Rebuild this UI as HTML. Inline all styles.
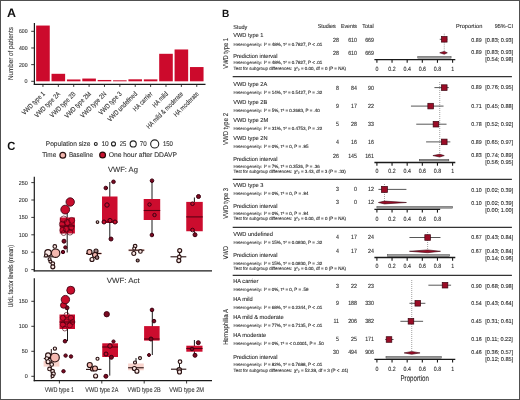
<!DOCTYPE html>
<html><head><meta charset="utf-8"><style>
html,body{margin:0;padding:0;background:#fff;}
body{width:520px;height:400px;overflow:hidden;}
svg{display:block;will-change:transform;text-rendering:geometricPrecision;font-family:"Liberation Sans", sans-serif;}
</style></head><body>
<svg width="520" height="400" viewBox="0 0 520 400">
<rect x="0" y="0" width="520" height="400" fill="#fff"/>
<text x="7.00" y="16.80" font-size="12.2" textLength="9" lengthAdjust="spacingAndGlyphs" fill="#111" font-weight="bold">A</text>
<line x1="34.40" y1="23.00" x2="34.40" y2="84.90" stroke="#1a1a1a" stroke-width="1.2"/>
<line x1="33.80" y1="84.30" x2="205.50" y2="84.30" stroke="#1a1a1a" stroke-width="1.2"/>
<line x1="31.20" y1="81.30" x2="34.40" y2="81.30" stroke="#222" stroke-width="0.9"/>
<text x="27.60" y="83.30" font-size="5.8" stroke="#333" stroke-width="0.1" text-anchor="end" textLength="3" lengthAdjust="spacingAndGlyphs" fill="#333">0</text>
<line x1="31.20" y1="64.63" x2="34.40" y2="64.63" stroke="#222" stroke-width="0.9"/>
<text x="27.60" y="66.63" font-size="5.8" stroke="#333" stroke-width="0.1" text-anchor="end" textLength="8.6" lengthAdjust="spacingAndGlyphs" fill="#333">200</text>
<line x1="31.20" y1="47.97" x2="34.40" y2="47.97" stroke="#222" stroke-width="0.9"/>
<text x="27.60" y="49.97" font-size="5.8" stroke="#333" stroke-width="0.1" text-anchor="end" textLength="8.6" lengthAdjust="spacingAndGlyphs" fill="#333">400</text>
<line x1="31.20" y1="31.30" x2="34.40" y2="31.30" stroke="#222" stroke-width="0.9"/>
<text x="27.60" y="33.30" font-size="5.8" stroke="#333" stroke-width="0.1" text-anchor="end" textLength="8.6" lengthAdjust="spacingAndGlyphs" fill="#333">600</text>
<text transform="translate(12.60,53.50) rotate(-90)" font-size="7.0" stroke="#333" stroke-width="0.1" text-anchor="middle" textLength="53" lengthAdjust="spacingAndGlyphs" fill="#333">Number of patients</text>
<rect x="36.15" y="25.55" width="13.60" height="55.75" fill="#cc0a2c"/>
<line x1="42.95" y1="84.30" x2="42.95" y2="86.90" stroke="#222" stroke-width="0.9"/>
<text transform="translate(45.35,94.40) rotate(-45)" font-size="6.8" stroke="#333" stroke-width="0.1" text-anchor="end" textLength="29.61" lengthAdjust="spacingAndGlyphs" fill="#333">VWD type 1</text>
<rect x="51.53" y="73.80" width="13.60" height="7.50" fill="#cc0a2c"/>
<line x1="58.33" y1="84.30" x2="58.33" y2="86.90" stroke="#222" stroke-width="0.9"/>
<text transform="translate(60.73,94.40) rotate(-45)" font-size="6.8" stroke="#333" stroke-width="0.1" text-anchor="end" textLength="33.31" lengthAdjust="spacingAndGlyphs" fill="#333">VWD type 2A</text>
<rect x="66.91" y="79.47" width="13.60" height="1.83" fill="#cc0a2c"/>
<line x1="73.71" y1="84.30" x2="73.71" y2="86.90" stroke="#222" stroke-width="0.9"/>
<text transform="translate(76.11,94.40) rotate(-45)" font-size="6.8" stroke="#333" stroke-width="0.1" text-anchor="end" textLength="33.31" lengthAdjust="spacingAndGlyphs" fill="#333">VWD type 2B</text>
<rect x="82.29" y="78.55" width="13.60" height="2.75" fill="#cc0a2c"/>
<line x1="89.09" y1="84.30" x2="89.09" y2="86.90" stroke="#222" stroke-width="0.9"/>
<text transform="translate(91.49,94.40) rotate(-45)" font-size="6.8" stroke="#333" stroke-width="0.1" text-anchor="end" textLength="34.23" lengthAdjust="spacingAndGlyphs" fill="#333">VWD type 2M</text>
<rect x="97.67" y="79.97" width="13.60" height="1.33" fill="#cc0a2c"/>
<line x1="104.47" y1="84.30" x2="104.47" y2="86.90" stroke="#222" stroke-width="0.9"/>
<text transform="translate(106.87,94.40) rotate(-45)" font-size="6.8" stroke="#333" stroke-width="0.1" text-anchor="end" textLength="33.62" lengthAdjust="spacingAndGlyphs" fill="#333">VWD type 2N</text>
<rect x="113.05" y="80.30" width="13.60" height="1.00" fill="#cc0a2c"/>
<line x1="119.85" y1="84.30" x2="119.85" y2="86.90" stroke="#222" stroke-width="0.9"/>
<text transform="translate(122.25,94.40) rotate(-45)" font-size="6.8" stroke="#333" stroke-width="0.1" text-anchor="end" textLength="29.61" lengthAdjust="spacingAndGlyphs" fill="#333">VWD type 3</text>
<rect x="128.43" y="79.30" width="13.60" height="2.00" fill="#cc0a2c"/>
<line x1="135.23" y1="84.30" x2="135.23" y2="86.90" stroke="#222" stroke-width="0.9"/>
<text transform="translate(137.63,94.40) rotate(-45)" font-size="6.8" stroke="#333" stroke-width="0.1" text-anchor="end" textLength="38.87" lengthAdjust="spacingAndGlyphs" fill="#333">VWD undefined</text>
<rect x="143.81" y="79.38" width="13.60" height="1.92" fill="#cc0a2c"/>
<line x1="150.61" y1="84.30" x2="150.61" y2="86.90" stroke="#222" stroke-width="0.9"/>
<text transform="translate(153.01,94.40) rotate(-45)" font-size="6.8" stroke="#333" stroke-width="0.1" text-anchor="end" textLength="24.67" lengthAdjust="spacingAndGlyphs" fill="#333">HA carrier</text>
<rect x="159.19" y="53.80" width="13.60" height="27.50" fill="#cc0a2c"/>
<line x1="165.99" y1="84.30" x2="165.99" y2="86.90" stroke="#222" stroke-width="0.9"/>
<text transform="translate(168.39,94.40) rotate(-45)" font-size="6.8" stroke="#333" stroke-width="0.1" text-anchor="end" textLength="19.12" lengthAdjust="spacingAndGlyphs" fill="#333">HA mild</text>
<rect x="174.57" y="49.47" width="13.60" height="31.83" fill="#cc0a2c"/>
<line x1="181.37" y1="84.30" x2="181.37" y2="86.90" stroke="#222" stroke-width="0.9"/>
<text transform="translate(183.77,94.40) rotate(-45)" font-size="6.8" stroke="#333" stroke-width="0.1" text-anchor="end" textLength="49.35" lengthAdjust="spacingAndGlyphs" fill="#333">HA mild &amp; moderate</text>
<rect x="189.95" y="67.05" width="13.60" height="14.25" fill="#cc0a2c"/>
<line x1="196.75" y1="84.30" x2="196.75" y2="86.90" stroke="#222" stroke-width="0.9"/>
<text transform="translate(199.15,94.40) rotate(-45)" font-size="6.8" stroke="#333" stroke-width="0.1" text-anchor="end" textLength="32.39" lengthAdjust="spacingAndGlyphs" fill="#333">HA moderate</text>
<text x="7.20" y="150.10" font-size="11.8" textLength="8.1" lengthAdjust="spacingAndGlyphs" fill="#111" font-weight="bold">C</text>
<text x="45.80" y="146.10" font-size="6.8" stroke="#333" stroke-width="0.1" textLength="44.7" lengthAdjust="spacingAndGlyphs" fill="#333">Population size</text>
<circle cx="95.80" cy="143.90" r="1.45" fill="none" stroke="#222" stroke-width="1.1"/>
<text x="101.40" y="146.10" font-size="6.8" stroke="#333" stroke-width="0.1" textLength="7.3" lengthAdjust="spacingAndGlyphs" fill="#333">10</text>
<circle cx="113.50" cy="143.90" r="2.00" fill="none" stroke="#222" stroke-width="1.1"/>
<text x="119.70" y="146.10" font-size="6.8" stroke="#333" stroke-width="0.1" textLength="6.6" lengthAdjust="spacingAndGlyphs" fill="#333">25</text>
<circle cx="133.20" cy="143.90" r="3.05" fill="none" stroke="#222" stroke-width="1.1"/>
<text x="139.80" y="146.10" font-size="6.8" stroke="#333" stroke-width="0.1" textLength="6.9" lengthAdjust="spacingAndGlyphs" fill="#333">70</text>
<circle cx="154.70" cy="143.90" r="4.05" fill="none" stroke="#222" stroke-width="1.1"/>
<text x="162.90" y="146.10" font-size="6.8" stroke="#333" stroke-width="0.1" textLength="10.0" lengthAdjust="spacingAndGlyphs" fill="#333">150</text>
<text x="42.30" y="157.30" font-size="6.8" stroke="#333" stroke-width="0.1" textLength="13.9" lengthAdjust="spacingAndGlyphs" fill="#333">Time</text>
<circle cx="62.80" cy="155.20" r="2.90" fill="#f2b5ad" stroke="#2a1212" stroke-width="1.2"/>
<text x="68.90" y="157.30" font-size="6.8" stroke="#333" stroke-width="0.1" textLength="24.1" lengthAdjust="spacingAndGlyphs" fill="#333">Baseline</text>
<circle cx="102.60" cy="155.00" r="2.90" fill="#c8102e" stroke="#2a0a0a" stroke-width="1.2"/>
<text x="108.70" y="157.30" font-size="6.8" stroke="#333" stroke-width="0.1" textLength="68.3" lengthAdjust="spacingAndGlyphs" fill="#333">One hour after DDAVP</text>
<text x="107.90" y="171.50" font-size="7.4" stroke="#333" stroke-width="0.1" textLength="30" lengthAdjust="spacingAndGlyphs" fill="#333">VWF: Ag</text>
<line x1="34.30" y1="176.70" x2="34.30" y2="271.40" stroke="#1a1a1a" stroke-width="1.2"/>
<line x1="33.70" y1="270.80" x2="212.00" y2="270.80" stroke="#1a1a1a" stroke-width="1.2"/>
<line x1="31.30" y1="269.60" x2="34.30" y2="269.60" stroke="#222" stroke-width="0.9"/>
<text x="27.70" y="271.60" font-size="5.8" stroke="#333" stroke-width="0.1" text-anchor="end" textLength="3" lengthAdjust="spacingAndGlyphs" fill="#333">0</text>
<line x1="31.30" y1="252.20" x2="34.30" y2="252.20" stroke="#222" stroke-width="0.9"/>
<text x="27.70" y="254.20" font-size="5.8" stroke="#333" stroke-width="0.1" text-anchor="end" textLength="6" lengthAdjust="spacingAndGlyphs" fill="#333">50</text>
<line x1="31.30" y1="234.80" x2="34.30" y2="234.80" stroke="#222" stroke-width="0.9"/>
<text x="27.70" y="236.80" font-size="5.8" stroke="#333" stroke-width="0.1" text-anchor="end" textLength="9" lengthAdjust="spacingAndGlyphs" fill="#333">100</text>
<line x1="31.30" y1="217.40" x2="34.30" y2="217.40" stroke="#222" stroke-width="0.9"/>
<text x="27.70" y="219.40" font-size="5.8" stroke="#333" stroke-width="0.1" text-anchor="end" textLength="9" lengthAdjust="spacingAndGlyphs" fill="#333">150</text>
<line x1="31.30" y1="200.00" x2="34.30" y2="200.00" stroke="#222" stroke-width="0.9"/>
<text x="27.70" y="202.00" font-size="5.8" stroke="#333" stroke-width="0.1" text-anchor="end" textLength="9" lengthAdjust="spacingAndGlyphs" fill="#333">200</text>
<line x1="31.30" y1="182.60" x2="34.30" y2="182.60" stroke="#222" stroke-width="0.9"/>
<text x="27.70" y="184.60" font-size="5.8" stroke="#333" stroke-width="0.1" text-anchor="end" textLength="9" lengthAdjust="spacingAndGlyphs" fill="#333">250</text>
<text x="106.70" y="282.60" font-size="7.4" stroke="#333" stroke-width="0.1" textLength="32.9" lengthAdjust="spacingAndGlyphs" fill="#333">VWF: Act</text>
<line x1="34.30" y1="278.20" x2="34.30" y2="381.30" stroke="#1a1a1a" stroke-width="1.2"/>
<line x1="33.70" y1="380.70" x2="212.00" y2="380.70" stroke="#1a1a1a" stroke-width="1.2"/>
<line x1="31.30" y1="376.30" x2="34.30" y2="376.30" stroke="#222" stroke-width="0.9"/>
<text x="27.70" y="378.30" font-size="5.8" stroke="#333" stroke-width="0.1" text-anchor="end" textLength="3" lengthAdjust="spacingAndGlyphs" fill="#333">0</text>
<line x1="31.30" y1="351.30" x2="34.30" y2="351.30" stroke="#222" stroke-width="0.9"/>
<text x="27.70" y="353.30" font-size="5.8" stroke="#333" stroke-width="0.1" text-anchor="end" textLength="6" lengthAdjust="spacingAndGlyphs" fill="#333">50</text>
<line x1="31.30" y1="326.30" x2="34.30" y2="326.30" stroke="#222" stroke-width="0.9"/>
<text x="27.70" y="328.30" font-size="5.8" stroke="#333" stroke-width="0.1" text-anchor="end" textLength="9" lengthAdjust="spacingAndGlyphs" fill="#333">100</text>
<line x1="31.30" y1="301.30" x2="34.30" y2="301.30" stroke="#222" stroke-width="0.9"/>
<text x="27.70" y="303.30" font-size="5.8" stroke="#333" stroke-width="0.1" text-anchor="end" textLength="9" lengthAdjust="spacingAndGlyphs" fill="#333">150</text>
<text transform="translate(13.20,276.30) rotate(-90)" font-size="7.0" stroke="#333" stroke-width="0.1" text-anchor="middle" textLength="62.6" lengthAdjust="spacingAndGlyphs" fill="#333">U/dL factor levels (mean)</text>
<line x1="59.40" y1="380.70" x2="59.40" y2="383.50" stroke="#222" stroke-width="0.9"/>
<text x="59.40" y="391.60" font-size="6.9" stroke="#333" stroke-width="0.1" text-anchor="middle" textLength="29.4" lengthAdjust="spacingAndGlyphs" fill="#333">VWD type 1</text>
<line x1="101.80" y1="380.70" x2="101.80" y2="383.50" stroke="#222" stroke-width="0.9"/>
<text x="101.80" y="391.60" font-size="6.9" stroke="#333" stroke-width="0.1" text-anchor="middle" textLength="33.1" lengthAdjust="spacingAndGlyphs" fill="#333">VWD type 2A</text>
<line x1="144.20" y1="380.70" x2="144.20" y2="383.50" stroke="#222" stroke-width="0.9"/>
<text x="144.20" y="391.60" font-size="6.9" stroke="#333" stroke-width="0.1" text-anchor="middle" textLength="33.2" lengthAdjust="spacingAndGlyphs" fill="#333">VWD type 2B</text>
<line x1="186.60" y1="380.70" x2="186.60" y2="383.50" stroke="#222" stroke-width="0.9"/>
<text x="186.60" y="391.60" font-size="6.9" stroke="#333" stroke-width="0.1" text-anchor="middle" textLength="34.7" lengthAdjust="spacingAndGlyphs" fill="#333">VWD type 2M</text>
<!--CDATA-->
<text x="221.90" y="16.90" font-size="10.4" textLength="7.3" lengthAdjust="spacingAndGlyphs" fill="#111" font-weight="bold">B</text>
<text x="233.20" y="28.70" font-size="5.8" stroke="#2a2a2a" stroke-width="0.1" textLength="14.1" lengthAdjust="spacingAndGlyphs" fill="#2a2a2a">Study</text>
<text x="317.70" y="28.10" font-size="5.8" stroke="#2a2a2a" stroke-width="0.1" textLength="18.1" lengthAdjust="spacingAndGlyphs" fill="#2a2a2a">Studies</text>
<text x="341.00" y="28.10" font-size="5.8" stroke="#2a2a2a" stroke-width="0.1" textLength="16" lengthAdjust="spacingAndGlyphs" fill="#2a2a2a">Events</text>
<text x="362.30" y="28.10" font-size="5.8" stroke="#2a2a2a" stroke-width="0.1" textLength="11.5" lengthAdjust="spacingAndGlyphs" fill="#2a2a2a">Total</text>
<text x="456.00" y="28.00" font-size="5.8" stroke="#2a2a2a" stroke-width="0.1" textLength="26.3" lengthAdjust="spacingAndGlyphs" fill="#2a2a2a">Proportion</text>
<text x="494.80" y="28.00" font-size="5.8" stroke="#2a2a2a" stroke-width="0.1" textLength="18.2" lengthAdjust="spacingAndGlyphs" fill="#2a2a2a">95%-CI</text>
<text transform="translate(227.70,53.40) rotate(-90)" font-size="7.0" stroke="#2a2a2a" stroke-width="0.1" text-anchor="middle" textLength="30.6" lengthAdjust="spacingAndGlyphs" fill="#2a2a2a">VWD type 1</text>
<line x1="444.27" y1="33.70" x2="444.27" y2="54.00" stroke="#8a8a8a" stroke-width="0.8" stroke-dasharray="1,1"/>
<text x="233.20" y="37.40" font-size="5.8" stroke="#2a2a2a" stroke-width="0.1" textLength="30.22" lengthAdjust="spacingAndGlyphs" fill="#2a2a2a">VWD type 1</text>
<text x="233.50" y="45.70" font-size="4.4" stroke="#4a4a4a" stroke-width="0.12" textLength="28.6" lengthAdjust="spacingAndGlyphs" fill="#4a4a4a">Heterogeneity:</text>
<text x="264.00" y="45.70" font-size="4.6" stroke="#2a2a2a" stroke-width="0.12" textLength="58.3" lengthAdjust="spacingAndGlyphs" fill="#2a2a2a">I² = 48%, τ² = 0.7827, P &lt; .01</text>
<text x="339.00" y="41.80" font-size="6.1" stroke="#2a2a2a" stroke-width="0.1" text-anchor="end" textLength="5.89" lengthAdjust="spacingAndGlyphs" fill="#2a2a2a">28</text>
<text x="357.00" y="41.80" font-size="6.1" stroke="#2a2a2a" stroke-width="0.1" text-anchor="end" textLength="8.83" lengthAdjust="spacingAndGlyphs" fill="#2a2a2a">610</text>
<text x="374.00" y="41.80" font-size="6.1" stroke="#2a2a2a" stroke-width="0.1" text-anchor="end" textLength="8.83" lengthAdjust="spacingAndGlyphs" fill="#2a2a2a">669</text>
<line x1="439.73" y1="39.30" x2="447.30" y2="39.30" stroke="#444" stroke-width="0.9"/>
<rect x="441.47" y="36.50" width="5.60" height="5.60" fill="#9a0c26" stroke="#3a0510" stroke-width="0.7"/>
<text x="481.60" y="41.60" font-size="5.6" stroke="#2a2a2a" stroke-width="0.1" text-anchor="end" textLength="10.3" lengthAdjust="spacingAndGlyphs" fill="#2a2a2a">0.89</text>
<text x="485.30" y="41.60" font-size="5.6" stroke="#2a2a2a" stroke-width="0.1" textLength="28.0" lengthAdjust="spacingAndGlyphs" fill="#2a2a2a">[0.83; 0.93]</text>
<text x="233.20" y="58.20" font-size="5.8" stroke="#2a2a2a" stroke-width="0.1" textLength="44.2" lengthAdjust="spacingAndGlyphs" fill="#2a2a2a">Prediction interval</text>
<text x="339.00" y="54.70" font-size="6.1" stroke="#2a2a2a" stroke-width="0.1" text-anchor="end" textLength="5.89" lengthAdjust="spacingAndGlyphs" fill="#2a2a2a">28</text>
<text x="357.00" y="54.70" font-size="6.1" stroke="#2a2a2a" stroke-width="0.1" text-anchor="end" textLength="8.83" lengthAdjust="spacingAndGlyphs" fill="#2a2a2a">610</text>
<text x="374.00" y="54.70" font-size="6.1" stroke="#2a2a2a" stroke-width="0.1" text-anchor="end" textLength="8.83" lengthAdjust="spacingAndGlyphs" fill="#2a2a2a">669</text>
<polygon points="439.73,52.80 444.27,51.40 447.30,52.80 444.27,54.20" fill="#9a0c26" stroke="#3a0510" stroke-width="0.6"/>
<rect x="417.78" y="56.45" width="33.31" height="1.70" fill="#a0a0a0" stroke="#444" stroke-width="0.5"/>
<text x="233.50" y="64.30" font-size="4.4" stroke="#4a4a4a" stroke-width="0.12" textLength="28.6" lengthAdjust="spacingAndGlyphs" fill="#4a4a4a">Heterogeneity:</text>
<text x="264.00" y="64.30" font-size="4.6" stroke="#2a2a2a" stroke-width="0.12" textLength="58.3" lengthAdjust="spacingAndGlyphs" fill="#2a2a2a">I² = 48%, τ² = 0.7827, P &lt; .01</text>
<text x="233.50" y="69.70" font-size="4.5" stroke="#3a3a3a" stroke-width="0.12" textLength="58.6" lengthAdjust="spacingAndGlyphs" fill="#3a3a3a">Test for subgroup differences:</text>
<text x="294.00" y="69.70" font-size="4.6" stroke="#2a2a2a" stroke-width="0.12" textLength="51.9" lengthAdjust="spacingAndGlyphs" fill="#2a2a2a">χ²₀ = 0.00, df = 0 (P = NA)</text>
<text x="481.60" y="54.30" font-size="5.6" stroke="#2a2a2a" stroke-width="0.1" text-anchor="end" textLength="10.3" lengthAdjust="spacingAndGlyphs" fill="#2a2a2a">0.89</text>
<text x="485.30" y="54.30" font-size="5.6" stroke="#2a2a2a" stroke-width="0.1" textLength="28.0" lengthAdjust="spacingAndGlyphs" fill="#2a2a2a">[0.83; 0.93]</text>
<text x="485.30" y="61.40" font-size="5.6" stroke="#2a2a2a" stroke-width="0.1" textLength="28.0" lengthAdjust="spacingAndGlyphs" fill="#2a2a2a">[0.54; 0.98]</text>
<line x1="374.40" y1="59.60" x2="455.30" y2="59.60" stroke="#1a1a1a" stroke-width="1.3"/>
<line x1="376.90" y1="59.60" x2="376.90" y2="62.80" stroke="#1a1a1a" stroke-width="1.1"/>
<text x="376.90" y="70.70" font-size="6.2" stroke="#2a2a2a" stroke-width="0.1" text-anchor="middle" textLength="2.94" lengthAdjust="spacingAndGlyphs" fill="#2a2a2a">0</text>
<line x1="392.04" y1="59.60" x2="392.04" y2="62.80" stroke="#1a1a1a" stroke-width="1.1"/>
<text x="392.04" y="70.70" font-size="6.2" stroke="#2a2a2a" stroke-width="0.1" text-anchor="middle" textLength="7.36" lengthAdjust="spacingAndGlyphs" fill="#2a2a2a">0.2</text>
<line x1="407.18" y1="59.60" x2="407.18" y2="62.80" stroke="#1a1a1a" stroke-width="1.1"/>
<text x="407.18" y="70.70" font-size="6.2" stroke="#2a2a2a" stroke-width="0.1" text-anchor="middle" textLength="7.36" lengthAdjust="spacingAndGlyphs" fill="#2a2a2a">0.4</text>
<line x1="422.32" y1="59.60" x2="422.32" y2="62.80" stroke="#1a1a1a" stroke-width="1.1"/>
<text x="422.32" y="70.70" font-size="6.2" stroke="#2a2a2a" stroke-width="0.1" text-anchor="middle" textLength="7.36" lengthAdjust="spacingAndGlyphs" fill="#2a2a2a">0.6</text>
<line x1="437.46" y1="59.60" x2="437.46" y2="62.80" stroke="#1a1a1a" stroke-width="1.1"/>
<text x="437.46" y="70.70" font-size="6.2" stroke="#2a2a2a" stroke-width="0.1" text-anchor="middle" textLength="7.36" lengthAdjust="spacingAndGlyphs" fill="#2a2a2a">0.8</text>
<line x1="452.60" y1="59.60" x2="452.60" y2="62.80" stroke="#1a1a1a" stroke-width="1.1"/>
<text x="452.60" y="70.70" font-size="6.2" stroke="#2a2a2a" stroke-width="0.1" text-anchor="middle" textLength="2.94" lengthAdjust="spacingAndGlyphs" fill="#2a2a2a">1</text>
<line x1="232.70" y1="76.60" x2="511.90" y2="76.60" stroke="#333" stroke-width="1.2"/>
<text transform="translate(227.70,129.00) rotate(-90)" font-size="7.0" stroke="#2a2a2a" stroke-width="0.1" text-anchor="middle" textLength="32" lengthAdjust="spacingAndGlyphs" fill="#2a2a2a">VWD type 2</text>
<line x1="439.73" y1="82.00" x2="439.73" y2="155.00" stroke="#8a8a8a" stroke-width="0.8" stroke-dasharray="1,1"/>
<text x="233.20" y="85.50" font-size="5.8" stroke="#2a2a2a" stroke-width="0.1" textLength="34.0" lengthAdjust="spacingAndGlyphs" fill="#2a2a2a">VWD type 2A</text>
<text x="233.50" y="93.80" font-size="4.4" stroke="#4a4a4a" stroke-width="0.12" textLength="28.6" lengthAdjust="spacingAndGlyphs" fill="#4a4a4a">Heterogeneity:</text>
<text x="264.00" y="93.80" font-size="4.6" stroke="#2a2a2a" stroke-width="0.12" textLength="58.3" lengthAdjust="spacingAndGlyphs" fill="#2a2a2a">I² = 14%, τ² = 0.5427, P = .32</text>
<text x="339.00" y="90.20" font-size="6.1" stroke="#2a2a2a" stroke-width="0.1" text-anchor="end" textLength="2.94" lengthAdjust="spacingAndGlyphs" fill="#2a2a2a">8</text>
<text x="357.00" y="90.20" font-size="6.1" stroke="#2a2a2a" stroke-width="0.1" text-anchor="end" textLength="5.89" lengthAdjust="spacingAndGlyphs" fill="#2a2a2a">84</text>
<text x="374.00" y="90.20" font-size="6.1" stroke="#2a2a2a" stroke-width="0.1" text-anchor="end" textLength="5.89" lengthAdjust="spacingAndGlyphs" fill="#2a2a2a">90</text>
<line x1="434.43" y1="87.60" x2="448.81" y2="87.60" stroke="#444" stroke-width="0.9"/>
<rect x="441.47" y="84.80" width="5.60" height="5.60" fill="#9a0c26" stroke="#3a0510" stroke-width="0.7"/>
<text x="481.60" y="89.20" font-size="5.6" stroke="#2a2a2a" stroke-width="0.1" text-anchor="end" textLength="10.3" lengthAdjust="spacingAndGlyphs" fill="#2a2a2a">0.89</text>
<text x="485.30" y="89.20" font-size="5.6" stroke="#2a2a2a" stroke-width="0.1" textLength="28.0" lengthAdjust="spacingAndGlyphs" fill="#2a2a2a">[0.76; 0.95]</text>
<text x="233.20" y="103.70" font-size="5.8" stroke="#2a2a2a" stroke-width="0.1" textLength="34.0" lengthAdjust="spacingAndGlyphs" fill="#2a2a2a">VWD type 2B</text>
<text x="233.50" y="111.70" font-size="4.4" stroke="#4a4a4a" stroke-width="0.12" textLength="28.6" lengthAdjust="spacingAndGlyphs" fill="#4a4a4a">Heterogeneity:</text>
<text x="264.00" y="111.70" font-size="4.6" stroke="#2a2a2a" stroke-width="0.12" textLength="55.8" lengthAdjust="spacingAndGlyphs" fill="#2a2a2a">I² = 5%, τ² = 0.2683, P = .40</text>
<text x="339.00" y="108.00" font-size="6.1" stroke="#2a2a2a" stroke-width="0.1" text-anchor="end" textLength="2.94" lengthAdjust="spacingAndGlyphs" fill="#2a2a2a">9</text>
<text x="357.00" y="108.00" font-size="6.1" stroke="#2a2a2a" stroke-width="0.1" text-anchor="end" textLength="5.89" lengthAdjust="spacingAndGlyphs" fill="#2a2a2a">17</text>
<text x="374.00" y="108.00" font-size="6.1" stroke="#2a2a2a" stroke-width="0.1" text-anchor="end" textLength="5.89" lengthAdjust="spacingAndGlyphs" fill="#2a2a2a">22</text>
<line x1="410.96" y1="106.10" x2="443.52" y2="106.10" stroke="#444" stroke-width="0.9"/>
<rect x="427.85" y="103.30" width="5.60" height="5.60" fill="#9a0c26" stroke="#3a0510" stroke-width="0.7"/>
<text x="481.60" y="108.00" font-size="5.6" stroke="#2a2a2a" stroke-width="0.1" text-anchor="end" textLength="10.3" lengthAdjust="spacingAndGlyphs" fill="#2a2a2a">0.71</text>
<text x="485.30" y="108.00" font-size="5.6" stroke="#2a2a2a" stroke-width="0.1" textLength="28.0" lengthAdjust="spacingAndGlyphs" fill="#2a2a2a">[0.45; 0.88]</text>
<text x="233.20" y="121.70" font-size="5.8" stroke="#2a2a2a" stroke-width="0.1" textLength="34.94" lengthAdjust="spacingAndGlyphs" fill="#2a2a2a">VWD type 2M</text>
<text x="233.50" y="130.10" font-size="4.4" stroke="#4a4a4a" stroke-width="0.12" textLength="28.6" lengthAdjust="spacingAndGlyphs" fill="#4a4a4a">Heterogeneity:</text>
<text x="264.00" y="130.10" font-size="4.6" stroke="#2a2a2a" stroke-width="0.12" textLength="58.3" lengthAdjust="spacingAndGlyphs" fill="#2a2a2a">I² = 31%, τ² = 0.4753, P = .22</text>
<text x="339.00" y="126.20" font-size="6.1" stroke="#2a2a2a" stroke-width="0.1" text-anchor="end" textLength="2.94" lengthAdjust="spacingAndGlyphs" fill="#2a2a2a">5</text>
<text x="357.00" y="126.20" font-size="6.1" stroke="#2a2a2a" stroke-width="0.1" text-anchor="end" textLength="5.89" lengthAdjust="spacingAndGlyphs" fill="#2a2a2a">28</text>
<text x="374.00" y="126.20" font-size="6.1" stroke="#2a2a2a" stroke-width="0.1" text-anchor="end" textLength="5.89" lengthAdjust="spacingAndGlyphs" fill="#2a2a2a">33</text>
<line x1="416.26" y1="124.20" x2="446.54" y2="124.20" stroke="#444" stroke-width="0.9"/>
<rect x="433.15" y="121.40" width="5.60" height="5.60" fill="#9a0c26" stroke="#3a0510" stroke-width="0.7"/>
<text x="481.60" y="125.70" font-size="5.6" stroke="#2a2a2a" stroke-width="0.1" text-anchor="end" textLength="10.3" lengthAdjust="spacingAndGlyphs" fill="#2a2a2a">0.78</text>
<text x="485.30" y="125.70" font-size="5.6" stroke="#2a2a2a" stroke-width="0.1" textLength="28.0" lengthAdjust="spacingAndGlyphs" fill="#2a2a2a">[0.52; 0.92]</text>
<text x="233.20" y="139.70" font-size="5.8" stroke="#2a2a2a" stroke-width="0.1" textLength="34.31" lengthAdjust="spacingAndGlyphs" fill="#2a2a2a">VWD type 2N</text>
<text x="233.50" y="148.00" font-size="4.4" stroke="#4a4a4a" stroke-width="0.12" textLength="28.6" lengthAdjust="spacingAndGlyphs" fill="#4a4a4a">Heterogeneity:</text>
<text x="264.00" y="148.00" font-size="4.6" stroke="#2a2a2a" stroke-width="0.12" textLength="44.55" lengthAdjust="spacingAndGlyphs" fill="#2a2a2a">I² = 0%, τ² = 0, P = .95</text>
<text x="339.00" y="144.20" font-size="6.1" stroke="#2a2a2a" stroke-width="0.1" text-anchor="end" textLength="2.94" lengthAdjust="spacingAndGlyphs" fill="#2a2a2a">4</text>
<text x="357.00" y="144.20" font-size="6.1" stroke="#2a2a2a" stroke-width="0.1" text-anchor="end" textLength="5.89" lengthAdjust="spacingAndGlyphs" fill="#2a2a2a">16</text>
<text x="374.00" y="144.20" font-size="6.1" stroke="#2a2a2a" stroke-width="0.1" text-anchor="end" textLength="5.89" lengthAdjust="spacingAndGlyphs" fill="#2a2a2a">16</text>
<line x1="426.10" y1="141.90" x2="450.33" y2="141.90" stroke="#444" stroke-width="0.9"/>
<rect x="441.47" y="139.10" width="5.60" height="5.60" fill="#9a0c26" stroke="#3a0510" stroke-width="0.7"/>
<text x="481.60" y="143.60" font-size="5.6" stroke="#2a2a2a" stroke-width="0.1" text-anchor="end" textLength="10.3" lengthAdjust="spacingAndGlyphs" fill="#2a2a2a">0.89</text>
<text x="485.30" y="143.60" font-size="5.6" stroke="#2a2a2a" stroke-width="0.1" textLength="28.0" lengthAdjust="spacingAndGlyphs" fill="#2a2a2a">[0.65; 0.97]</text>
<text x="233.20" y="160.70" font-size="5.8" stroke="#2a2a2a" stroke-width="0.1" textLength="44.2" lengthAdjust="spacingAndGlyphs" fill="#2a2a2a">Prediction interval</text>
<text x="339.00" y="157.50" font-size="6.1" stroke="#2a2a2a" stroke-width="0.1" text-anchor="end" textLength="5.89" lengthAdjust="spacingAndGlyphs" fill="#2a2a2a">26</text>
<text x="357.00" y="157.50" font-size="6.1" stroke="#2a2a2a" stroke-width="0.1" text-anchor="end" textLength="8.83" lengthAdjust="spacingAndGlyphs" fill="#2a2a2a">145</text>
<text x="374.00" y="157.50" font-size="6.1" stroke="#2a2a2a" stroke-width="0.1" text-anchor="end" textLength="8.83" lengthAdjust="spacingAndGlyphs" fill="#2a2a2a">161</text>
<polygon points="432.92,155.60 439.73,154.20 444.27,155.60 439.73,157.00" fill="#9a0c26" stroke="#3a0510" stroke-width="0.6"/>
<rect x="419.29" y="159.25" width="29.52" height="1.70" fill="#a0a0a0" stroke="#444" stroke-width="0.5"/>
<text x="233.50" y="167.50" font-size="4.4" stroke="#4a4a4a" stroke-width="0.12" textLength="28.6" lengthAdjust="spacingAndGlyphs" fill="#4a4a4a">Heterogeneity:</text>
<text x="264.00" y="167.50" font-size="4.6" stroke="#2a2a2a" stroke-width="0.12" textLength="55.8" lengthAdjust="spacingAndGlyphs" fill="#2a2a2a">I² = 7%, τ² = 0.3526, P = .36</text>
<text x="233.50" y="172.70" font-size="4.5" stroke="#3a3a3a" stroke-width="0.12" textLength="58.6" lengthAdjust="spacingAndGlyphs" fill="#3a3a3a">Test for subgroup differences:</text>
<text x="294.00" y="172.70" font-size="4.6" stroke="#2a2a2a" stroke-width="0.12" textLength="51.87" lengthAdjust="spacingAndGlyphs" fill="#2a2a2a">χ²₃ = 3.43, df = 3 (P = .33)</text>
<text x="481.60" y="157.20" font-size="5.6" stroke="#2a2a2a" stroke-width="0.1" text-anchor="end" textLength="10.3" lengthAdjust="spacingAndGlyphs" fill="#2a2a2a">0.83</text>
<text x="485.30" y="157.20" font-size="5.6" stroke="#2a2a2a" stroke-width="0.1" textLength="28.0" lengthAdjust="spacingAndGlyphs" fill="#2a2a2a">[0.74; 0.89]</text>
<text x="485.30" y="163.80" font-size="5.6" stroke="#2a2a2a" stroke-width="0.1" textLength="28.0" lengthAdjust="spacingAndGlyphs" fill="#2a2a2a">[0.56; 0.95]</text>
<line x1="374.40" y1="162.50" x2="455.30" y2="162.50" stroke="#1a1a1a" stroke-width="1.3"/>
<line x1="376.90" y1="162.50" x2="376.90" y2="165.70" stroke="#1a1a1a" stroke-width="1.1"/>
<text x="376.90" y="172.90" font-size="6.2" stroke="#2a2a2a" stroke-width="0.1" text-anchor="middle" textLength="2.94" lengthAdjust="spacingAndGlyphs" fill="#2a2a2a">0</text>
<line x1="392.04" y1="162.50" x2="392.04" y2="165.70" stroke="#1a1a1a" stroke-width="1.1"/>
<text x="392.04" y="172.90" font-size="6.2" stroke="#2a2a2a" stroke-width="0.1" text-anchor="middle" textLength="7.36" lengthAdjust="spacingAndGlyphs" fill="#2a2a2a">0.2</text>
<line x1="407.18" y1="162.50" x2="407.18" y2="165.70" stroke="#1a1a1a" stroke-width="1.1"/>
<text x="407.18" y="172.90" font-size="6.2" stroke="#2a2a2a" stroke-width="0.1" text-anchor="middle" textLength="7.36" lengthAdjust="spacingAndGlyphs" fill="#2a2a2a">0.4</text>
<line x1="422.32" y1="162.50" x2="422.32" y2="165.70" stroke="#1a1a1a" stroke-width="1.1"/>
<text x="422.32" y="172.90" font-size="6.2" stroke="#2a2a2a" stroke-width="0.1" text-anchor="middle" textLength="7.36" lengthAdjust="spacingAndGlyphs" fill="#2a2a2a">0.6</text>
<line x1="437.46" y1="162.50" x2="437.46" y2="165.70" stroke="#1a1a1a" stroke-width="1.1"/>
<text x="437.46" y="172.90" font-size="6.2" stroke="#2a2a2a" stroke-width="0.1" text-anchor="middle" textLength="7.36" lengthAdjust="spacingAndGlyphs" fill="#2a2a2a">0.8</text>
<line x1="452.60" y1="162.50" x2="452.60" y2="165.70" stroke="#1a1a1a" stroke-width="1.1"/>
<text x="452.60" y="172.90" font-size="6.2" stroke="#2a2a2a" stroke-width="0.1" text-anchor="middle" textLength="2.94" lengthAdjust="spacingAndGlyphs" fill="#2a2a2a">1</text>
<line x1="232.70" y1="179.30" x2="511.90" y2="179.30" stroke="#333" stroke-width="1.2"/>
<text transform="translate(227.70,203.40) rotate(-90)" font-size="7.0" stroke="#2a2a2a" stroke-width="0.1" text-anchor="middle" textLength="30.8" lengthAdjust="spacingAndGlyphs" fill="#2a2a2a">VWD type 3</text>
<line x1="384.47" y1="184.00" x2="384.47" y2="201.00" stroke="#8a8a8a" stroke-width="0.8" stroke-dasharray="1,1"/>
<text x="233.20" y="186.50" font-size="5.8" stroke="#2a2a2a" stroke-width="0.1" textLength="30.22" lengthAdjust="spacingAndGlyphs" fill="#2a2a2a">VWD type 3</text>
<text x="233.50" y="195.00" font-size="4.4" stroke="#4a4a4a" stroke-width="0.12" textLength="28.6" lengthAdjust="spacingAndGlyphs" fill="#4a4a4a">Heterogeneity:</text>
<text x="264.00" y="195.00" font-size="4.6" stroke="#2a2a2a" stroke-width="0.12" textLength="44.55" lengthAdjust="spacingAndGlyphs" fill="#2a2a2a">I² = 0%, τ² = 0, P = .94</text>
<text x="339.00" y="190.70" font-size="6.1" stroke="#2a2a2a" stroke-width="0.1" text-anchor="end" textLength="2.94" lengthAdjust="spacingAndGlyphs" fill="#2a2a2a">3</text>
<text x="357.00" y="190.70" font-size="6.1" stroke="#2a2a2a" stroke-width="0.1" text-anchor="end" textLength="2.94" lengthAdjust="spacingAndGlyphs" fill="#2a2a2a">0</text>
<text x="374.00" y="190.70" font-size="6.1" stroke="#2a2a2a" stroke-width="0.1" text-anchor="end" textLength="5.89" lengthAdjust="spacingAndGlyphs" fill="#2a2a2a">12</text>
<line x1="378.41" y1="189.40" x2="406.42" y2="189.40" stroke="#444" stroke-width="0.9"/>
<rect x="381.47" y="186.40" width="6.00" height="6.00" fill="#9a0c26" stroke="#3a0510" stroke-width="0.7"/>
<text x="481.60" y="191.60" font-size="5.6" stroke="#2a2a2a" stroke-width="0.1" text-anchor="end" textLength="10.3" lengthAdjust="spacingAndGlyphs" fill="#2a2a2a">0.10</text>
<text x="485.30" y="191.60" font-size="5.6" stroke="#2a2a2a" stroke-width="0.1" textLength="28.0" lengthAdjust="spacingAndGlyphs" fill="#2a2a2a">[0.02; 0.39]</text>
<text x="233.20" y="208.40" font-size="5.8" stroke="#2a2a2a" stroke-width="0.1" textLength="44.2" lengthAdjust="spacingAndGlyphs" fill="#2a2a2a">Prediction interval</text>
<text x="339.00" y="203.90" font-size="6.1" stroke="#2a2a2a" stroke-width="0.1" text-anchor="end" textLength="2.94" lengthAdjust="spacingAndGlyphs" fill="#2a2a2a">3</text>
<text x="357.00" y="203.90" font-size="6.1" stroke="#2a2a2a" stroke-width="0.1" text-anchor="end" textLength="2.94" lengthAdjust="spacingAndGlyphs" fill="#2a2a2a">0</text>
<text x="374.00" y="203.90" font-size="6.1" stroke="#2a2a2a" stroke-width="0.1" text-anchor="end" textLength="5.89" lengthAdjust="spacingAndGlyphs" fill="#2a2a2a">12</text>
<polygon points="378.41,202.50 384.47,201.10 406.42,202.50 384.47,203.90" fill="#9a0c26" stroke="#3a0510" stroke-width="0.6"/>
<rect x="376.90" y="206.45" width="75.70" height="1.70" fill="#a0a0a0" stroke="#444" stroke-width="0.5"/>
<text x="233.50" y="214.50" font-size="4.4" stroke="#4a4a4a" stroke-width="0.12" textLength="28.6" lengthAdjust="spacingAndGlyphs" fill="#4a4a4a">Heterogeneity:</text>
<text x="264.00" y="214.50" font-size="4.6" stroke="#2a2a2a" stroke-width="0.12" textLength="44.55" lengthAdjust="spacingAndGlyphs" fill="#2a2a2a">I² = 0%, τ² = 0, P = .94</text>
<text x="233.50" y="220.00" font-size="4.5" stroke="#3a3a3a" stroke-width="0.12" textLength="58.6" lengthAdjust="spacingAndGlyphs" fill="#3a3a3a">Test for subgroup differences:</text>
<text x="294.00" y="220.00" font-size="4.6" stroke="#2a2a2a" stroke-width="0.12" textLength="51.9" lengthAdjust="spacingAndGlyphs" fill="#2a2a2a">χ²₀ = 0.00, df = 0 (P = NA)</text>
<text x="481.60" y="204.80" font-size="5.6" stroke="#2a2a2a" stroke-width="0.1" text-anchor="end" textLength="10.3" lengthAdjust="spacingAndGlyphs" fill="#2a2a2a">0.10</text>
<text x="485.30" y="204.80" font-size="5.6" stroke="#2a2a2a" stroke-width="0.1" textLength="28.0" lengthAdjust="spacingAndGlyphs" fill="#2a2a2a">[0.02; 0.39]</text>
<text x="485.30" y="211.50" font-size="5.6" stroke="#2a2a2a" stroke-width="0.1" textLength="28.0" lengthAdjust="spacingAndGlyphs" fill="#2a2a2a">[0.00; 1.00]</text>
<line x1="374.40" y1="209.40" x2="440.16" y2="209.40" stroke="#1a1a1a" stroke-width="1.3"/>
<line x1="376.90" y1="209.40" x2="376.90" y2="212.60" stroke="#1a1a1a" stroke-width="1.1"/>
<text x="376.90" y="220.90" font-size="6.2" stroke="#2a2a2a" stroke-width="0.1" text-anchor="middle" textLength="2.94" lengthAdjust="spacingAndGlyphs" fill="#2a2a2a">0</text>
<line x1="392.04" y1="209.40" x2="392.04" y2="212.60" stroke="#1a1a1a" stroke-width="1.1"/>
<text x="392.04" y="220.90" font-size="6.2" stroke="#2a2a2a" stroke-width="0.1" text-anchor="middle" textLength="7.36" lengthAdjust="spacingAndGlyphs" fill="#2a2a2a">0.2</text>
<line x1="407.18" y1="209.40" x2="407.18" y2="212.60" stroke="#1a1a1a" stroke-width="1.1"/>
<text x="407.18" y="220.90" font-size="6.2" stroke="#2a2a2a" stroke-width="0.1" text-anchor="middle" textLength="7.36" lengthAdjust="spacingAndGlyphs" fill="#2a2a2a">0.4</text>
<line x1="422.32" y1="209.40" x2="422.32" y2="212.60" stroke="#1a1a1a" stroke-width="1.1"/>
<text x="422.32" y="220.90" font-size="6.2" stroke="#2a2a2a" stroke-width="0.1" text-anchor="middle" textLength="7.36" lengthAdjust="spacingAndGlyphs" fill="#2a2a2a">0.6</text>
<line x1="437.46" y1="209.40" x2="437.46" y2="212.60" stroke="#1a1a1a" stroke-width="1.1"/>
<text x="437.46" y="220.90" font-size="6.2" stroke="#2a2a2a" stroke-width="0.1" text-anchor="middle" textLength="7.36" lengthAdjust="spacingAndGlyphs" fill="#2a2a2a">0.8</text>
<line x1="232.70" y1="227.40" x2="511.90" y2="227.40" stroke="#333" stroke-width="1.2"/>
<text transform="translate(227.70,252.60) rotate(-90)" font-size="7.0" stroke="#2a2a2a" stroke-width="0.1" text-anchor="middle" textLength="13.2" lengthAdjust="spacingAndGlyphs" fill="#2a2a2a">VWD</text>
<line x1="427.62" y1="232.00" x2="427.62" y2="250.00" stroke="#8a8a8a" stroke-width="0.8" stroke-dasharray="1,1"/>
<text x="233.20" y="235.70" font-size="5.8" stroke="#2a2a2a" stroke-width="0.1" textLength="39.67" lengthAdjust="spacingAndGlyphs" fill="#2a2a2a">VWD undefined</text>
<text x="233.50" y="244.30" font-size="4.4" stroke="#4a4a4a" stroke-width="0.12" textLength="28.6" lengthAdjust="spacingAndGlyphs" fill="#4a4a4a">Heterogeneity:</text>
<text x="264.00" y="244.30" font-size="4.6" stroke="#2a2a2a" stroke-width="0.12" textLength="58.3" lengthAdjust="spacingAndGlyphs" fill="#2a2a2a">I² = 15%, τ² = 0.0930, P = .32</text>
<text x="339.00" y="239.30" font-size="6.1" stroke="#2a2a2a" stroke-width="0.1" text-anchor="end" textLength="2.94" lengthAdjust="spacingAndGlyphs" fill="#2a2a2a">4</text>
<text x="357.00" y="239.30" font-size="6.1" stroke="#2a2a2a" stroke-width="0.1" text-anchor="end" textLength="5.89" lengthAdjust="spacingAndGlyphs" fill="#2a2a2a">17</text>
<text x="374.00" y="239.30" font-size="6.1" stroke="#2a2a2a" stroke-width="0.1" text-anchor="end" textLength="5.89" lengthAdjust="spacingAndGlyphs" fill="#2a2a2a">24</text>
<line x1="409.45" y1="237.50" x2="440.49" y2="237.50" stroke="#444" stroke-width="0.9"/>
<rect x="424.82" y="234.70" width="5.60" height="5.60" fill="#9a0c26" stroke="#3a0510" stroke-width="0.7"/>
<text x="481.60" y="239.20" font-size="5.6" stroke="#2a2a2a" stroke-width="0.1" text-anchor="end" textLength="10.3" lengthAdjust="spacingAndGlyphs" fill="#2a2a2a">0.67</text>
<text x="485.30" y="239.20" font-size="5.6" stroke="#2a2a2a" stroke-width="0.1" textLength="28.0" lengthAdjust="spacingAndGlyphs" fill="#2a2a2a">[0.43; 0.84]</text>
<text x="233.20" y="257.40" font-size="5.8" stroke="#2a2a2a" stroke-width="0.1" textLength="44.2" lengthAdjust="spacingAndGlyphs" fill="#2a2a2a">Prediction interval</text>
<text x="339.00" y="253.00" font-size="6.1" stroke="#2a2a2a" stroke-width="0.1" text-anchor="end" textLength="2.94" lengthAdjust="spacingAndGlyphs" fill="#2a2a2a">4</text>
<text x="357.00" y="253.00" font-size="6.1" stroke="#2a2a2a" stroke-width="0.1" text-anchor="end" textLength="5.89" lengthAdjust="spacingAndGlyphs" fill="#2a2a2a">17</text>
<text x="374.00" y="253.00" font-size="6.1" stroke="#2a2a2a" stroke-width="0.1" text-anchor="end" textLength="5.89" lengthAdjust="spacingAndGlyphs" fill="#2a2a2a">24</text>
<polygon points="409.45,251.30 427.62,249.90 440.49,251.30 427.62,252.70" fill="#9a0c26" stroke="#3a0510" stroke-width="0.6"/>
<rect x="387.50" y="254.65" width="62.07" height="1.70" fill="#a0a0a0" stroke="#444" stroke-width="0.5"/>
<text x="233.50" y="264.60" font-size="4.4" stroke="#4a4a4a" stroke-width="0.12" textLength="28.6" lengthAdjust="spacingAndGlyphs" fill="#4a4a4a">Heterogeneity:</text>
<text x="264.00" y="264.60" font-size="4.6" stroke="#2a2a2a" stroke-width="0.12" textLength="58.3" lengthAdjust="spacingAndGlyphs" fill="#2a2a2a">I² = 15%, τ² = 0.0930, P = .32</text>
<text x="233.50" y="270.00" font-size="4.5" stroke="#3a3a3a" stroke-width="0.12" textLength="58.6" lengthAdjust="spacingAndGlyphs" fill="#3a3a3a">Test for subgroup differences:</text>
<text x="294.00" y="270.00" font-size="4.6" stroke="#2a2a2a" stroke-width="0.12" textLength="51.9" lengthAdjust="spacingAndGlyphs" fill="#2a2a2a">χ²₀ = 0.00, df = 0 (P = NA)</text>
<text x="481.60" y="252.70" font-size="5.6" stroke="#2a2a2a" stroke-width="0.1" text-anchor="end" textLength="10.3" lengthAdjust="spacingAndGlyphs" fill="#2a2a2a">0.67</text>
<text x="485.30" y="252.70" font-size="5.6" stroke="#2a2a2a" stroke-width="0.1" textLength="28.0" lengthAdjust="spacingAndGlyphs" fill="#2a2a2a">[0.43; 0.84]</text>
<text x="485.30" y="260.10" font-size="5.6" stroke="#2a2a2a" stroke-width="0.1" textLength="28.0" lengthAdjust="spacingAndGlyphs" fill="#2a2a2a">[0.14; 0.96]</text>
<line x1="374.40" y1="257.50" x2="455.30" y2="257.50" stroke="#1a1a1a" stroke-width="1.3"/>
<line x1="376.90" y1="257.50" x2="376.90" y2="260.70" stroke="#1a1a1a" stroke-width="1.1"/>
<text x="376.90" y="268.40" font-size="6.2" stroke="#2a2a2a" stroke-width="0.1" text-anchor="middle" textLength="2.94" lengthAdjust="spacingAndGlyphs" fill="#2a2a2a">0</text>
<line x1="392.04" y1="257.50" x2="392.04" y2="260.70" stroke="#1a1a1a" stroke-width="1.1"/>
<text x="392.04" y="268.40" font-size="6.2" stroke="#2a2a2a" stroke-width="0.1" text-anchor="middle" textLength="7.36" lengthAdjust="spacingAndGlyphs" fill="#2a2a2a">0.2</text>
<line x1="407.18" y1="257.50" x2="407.18" y2="260.70" stroke="#1a1a1a" stroke-width="1.1"/>
<text x="407.18" y="268.40" font-size="6.2" stroke="#2a2a2a" stroke-width="0.1" text-anchor="middle" textLength="7.36" lengthAdjust="spacingAndGlyphs" fill="#2a2a2a">0.4</text>
<line x1="422.32" y1="257.50" x2="422.32" y2="260.70" stroke="#1a1a1a" stroke-width="1.1"/>
<text x="422.32" y="268.40" font-size="6.2" stroke="#2a2a2a" stroke-width="0.1" text-anchor="middle" textLength="7.36" lengthAdjust="spacingAndGlyphs" fill="#2a2a2a">0.6</text>
<line x1="437.46" y1="257.50" x2="437.46" y2="260.70" stroke="#1a1a1a" stroke-width="1.1"/>
<text x="437.46" y="268.40" font-size="6.2" stroke="#2a2a2a" stroke-width="0.1" text-anchor="middle" textLength="7.36" lengthAdjust="spacingAndGlyphs" fill="#2a2a2a">0.8</text>
<line x1="452.60" y1="257.50" x2="452.60" y2="260.70" stroke="#1a1a1a" stroke-width="1.1"/>
<text x="452.60" y="268.40" font-size="6.2" stroke="#2a2a2a" stroke-width="0.1" text-anchor="middle" textLength="2.94" lengthAdjust="spacingAndGlyphs" fill="#2a2a2a">1</text>
<line x1="232.70" y1="275.30" x2="511.90" y2="275.30" stroke="#333" stroke-width="1.2"/>
<text transform="translate(227.70,326.90) rotate(-90)" font-size="7.0" stroke="#2a2a2a" stroke-width="0.1" text-anchor="middle" textLength="35.9" lengthAdjust="spacingAndGlyphs" fill="#2a2a2a">Hemophilia A</text>
<line x1="411.72" y1="280.00" x2="411.72" y2="351.00" stroke="#8a8a8a" stroke-width="0.8" stroke-dasharray="1,1"/>
<text x="233.20" y="282.60" font-size="5.8" stroke="#2a2a2a" stroke-width="0.1" textLength="25.18" lengthAdjust="spacingAndGlyphs" fill="#2a2a2a">HA carrier</text>
<text x="233.50" y="291.00" font-size="4.4" stroke="#4a4a4a" stroke-width="0.12" textLength="28.6" lengthAdjust="spacingAndGlyphs" fill="#4a4a4a">Heterogeneity:</text>
<text x="264.00" y="291.00" font-size="4.6" stroke="#2a2a2a" stroke-width="0.12" textLength="44.55" lengthAdjust="spacingAndGlyphs" fill="#2a2a2a">I² = 0%, τ² = 0, P = .59</text>
<text x="339.00" y="287.50" font-size="6.1" stroke="#2a2a2a" stroke-width="0.1" text-anchor="end" textLength="2.94" lengthAdjust="spacingAndGlyphs" fill="#2a2a2a">3</text>
<text x="357.00" y="287.50" font-size="6.1" stroke="#2a2a2a" stroke-width="0.1" text-anchor="end" textLength="5.89" lengthAdjust="spacingAndGlyphs" fill="#2a2a2a">22</text>
<text x="374.00" y="287.50" font-size="6.1" stroke="#2a2a2a" stroke-width="0.1" text-anchor="end" textLength="5.89" lengthAdjust="spacingAndGlyphs" fill="#2a2a2a">23</text>
<line x1="428.38" y1="285.20" x2="451.09" y2="285.20" stroke="#444" stroke-width="0.9"/>
<rect x="442.23" y="282.40" width="5.60" height="5.60" fill="#9a0c26" stroke="#3a0510" stroke-width="0.7"/>
<text x="481.60" y="287.80" font-size="5.6" stroke="#2a2a2a" stroke-width="0.1" text-anchor="end" textLength="10.3" lengthAdjust="spacingAndGlyphs" fill="#2a2a2a">0.90</text>
<text x="485.30" y="287.80" font-size="5.6" stroke="#2a2a2a" stroke-width="0.1" textLength="28.0" lengthAdjust="spacingAndGlyphs" fill="#2a2a2a">[0.68; 0.98]</text>
<text x="233.20" y="300.80" font-size="5.8" stroke="#2a2a2a" stroke-width="0.1" textLength="19.52" lengthAdjust="spacingAndGlyphs" fill="#2a2a2a">HA mild</text>
<text x="233.50" y="308.80" font-size="4.4" stroke="#4a4a4a" stroke-width="0.12" textLength="28.6" lengthAdjust="spacingAndGlyphs" fill="#4a4a4a">Heterogeneity:</text>
<text x="264.00" y="308.80" font-size="4.6" stroke="#2a2a2a" stroke-width="0.12" textLength="58.3" lengthAdjust="spacingAndGlyphs" fill="#2a2a2a">I² = 68%, τ² = 0.2344, P &lt; .01</text>
<text x="339.00" y="305.00" font-size="6.1" stroke="#2a2a2a" stroke-width="0.1" text-anchor="end" textLength="2.94" lengthAdjust="spacingAndGlyphs" fill="#2a2a2a">9</text>
<text x="357.00" y="305.00" font-size="6.1" stroke="#2a2a2a" stroke-width="0.1" text-anchor="end" textLength="8.83" lengthAdjust="spacingAndGlyphs" fill="#2a2a2a">188</text>
<text x="374.00" y="305.00" font-size="6.1" stroke="#2a2a2a" stroke-width="0.1" text-anchor="end" textLength="8.83" lengthAdjust="spacingAndGlyphs" fill="#2a2a2a">330</text>
<line x1="409.45" y1="303.30" x2="425.35" y2="303.30" stroke="#444" stroke-width="0.9"/>
<rect x="414.98" y="300.50" width="5.60" height="5.60" fill="#9a0c26" stroke="#3a0510" stroke-width="0.7"/>
<text x="481.60" y="305.00" font-size="5.6" stroke="#2a2a2a" stroke-width="0.1" text-anchor="end" textLength="10.3" lengthAdjust="spacingAndGlyphs" fill="#2a2a2a">0.54</text>
<text x="485.30" y="305.00" font-size="5.6" stroke="#2a2a2a" stroke-width="0.1" textLength="28.0" lengthAdjust="spacingAndGlyphs" fill="#2a2a2a">[0.43; 0.64]</text>
<text x="233.20" y="318.50" font-size="5.8" stroke="#2a2a2a" stroke-width="0.1" textLength="50.37" lengthAdjust="spacingAndGlyphs" fill="#2a2a2a">HA mild &amp; moderate</text>
<text x="233.50" y="326.60" font-size="4.4" stroke="#4a4a4a" stroke-width="0.12" textLength="28.6" lengthAdjust="spacingAndGlyphs" fill="#4a4a4a">Heterogeneity:</text>
<text x="264.00" y="326.60" font-size="4.6" stroke="#2a2a2a" stroke-width="0.12" textLength="58.3" lengthAdjust="spacingAndGlyphs" fill="#2a2a2a">I² = 77%, τ² = 0.7135, P &lt; .01</text>
<text x="339.00" y="323.00" font-size="6.1" stroke="#2a2a2a" stroke-width="0.1" text-anchor="end" textLength="5.49" lengthAdjust="spacingAndGlyphs" fill="#2a2a2a">11</text>
<text x="357.00" y="323.00" font-size="6.1" stroke="#2a2a2a" stroke-width="0.1" text-anchor="end" textLength="8.83" lengthAdjust="spacingAndGlyphs" fill="#2a2a2a">206</text>
<text x="374.00" y="323.00" font-size="6.1" stroke="#2a2a2a" stroke-width="0.1" text-anchor="end" textLength="8.83" lengthAdjust="spacingAndGlyphs" fill="#2a2a2a">382</text>
<line x1="400.37" y1="321.30" x2="423.08" y2="321.30" stroke="#444" stroke-width="0.9"/>
<rect x="408.16" y="318.50" width="5.60" height="5.60" fill="#9a0c26" stroke="#3a0510" stroke-width="0.7"/>
<text x="481.60" y="323.20" font-size="5.6" stroke="#2a2a2a" stroke-width="0.1" text-anchor="end" textLength="10.3" lengthAdjust="spacingAndGlyphs" fill="#2a2a2a">0.45</text>
<text x="485.30" y="323.20" font-size="5.6" stroke="#2a2a2a" stroke-width="0.1" textLength="28.0" lengthAdjust="spacingAndGlyphs" fill="#2a2a2a">[0.31; 0.61]</text>
<text x="233.20" y="336.60" font-size="5.8" stroke="#2a2a2a" stroke-width="0.1" textLength="33.06" lengthAdjust="spacingAndGlyphs" fill="#2a2a2a">HA moderate</text>
<text x="233.50" y="345.40" font-size="4.4" stroke="#4a4a4a" stroke-width="0.12" textLength="28.6" lengthAdjust="spacingAndGlyphs" fill="#4a4a4a">Heterogeneity:</text>
<text x="264.00" y="345.40" font-size="4.6" stroke="#2a2a2a" stroke-width="0.12" textLength="59.67" lengthAdjust="spacingAndGlyphs" fill="#2a2a2a">I² = 0%, τ² = &lt; 0.0001, P = .50</text>
<text x="339.00" y="341.30" font-size="6.1" stroke="#2a2a2a" stroke-width="0.1" text-anchor="end" textLength="2.94" lengthAdjust="spacingAndGlyphs" fill="#2a2a2a">5</text>
<text x="357.00" y="341.30" font-size="6.1" stroke="#2a2a2a" stroke-width="0.1" text-anchor="end" textLength="5.89" lengthAdjust="spacingAndGlyphs" fill="#2a2a2a">25</text>
<text x="374.00" y="341.30" font-size="6.1" stroke="#2a2a2a" stroke-width="0.1" text-anchor="end" textLength="8.83" lengthAdjust="spacingAndGlyphs" fill="#2a2a2a">171</text>
<line x1="385.23" y1="339.50" x2="393.55" y2="339.50" stroke="#444" stroke-width="0.9"/>
<rect x="386.21" y="336.70" width="5.60" height="5.60" fill="#9a0c26" stroke="#3a0510" stroke-width="0.7"/>
<text x="481.60" y="341.20" font-size="5.6" stroke="#2a2a2a" stroke-width="0.1" text-anchor="end" textLength="10.3" lengthAdjust="spacingAndGlyphs" fill="#2a2a2a">0.16</text>
<text x="485.30" y="341.20" font-size="5.6" stroke="#2a2a2a" stroke-width="0.1" textLength="27.58" lengthAdjust="spacingAndGlyphs" fill="#2a2a2a">[0.11; 0.22]</text>
<text x="233.20" y="358.80" font-size="5.8" stroke="#2a2a2a" stroke-width="0.1" textLength="44.2" lengthAdjust="spacingAndGlyphs" fill="#2a2a2a">Prediction interval</text>
<text x="339.00" y="353.80" font-size="6.1" stroke="#2a2a2a" stroke-width="0.1" text-anchor="end" textLength="5.89" lengthAdjust="spacingAndGlyphs" fill="#2a2a2a">30</text>
<text x="357.00" y="353.80" font-size="6.1" stroke="#2a2a2a" stroke-width="0.1" text-anchor="end" textLength="8.83" lengthAdjust="spacingAndGlyphs" fill="#2a2a2a">494</text>
<text x="374.00" y="353.80" font-size="6.1" stroke="#2a2a2a" stroke-width="0.1" text-anchor="end" textLength="8.83" lengthAdjust="spacingAndGlyphs" fill="#2a2a2a">906</text>
<polygon points="404.15,352.90 411.72,351.50 420.05,352.90 411.72,354.30" fill="#9a0c26" stroke="#3a0510" stroke-width="0.6"/>
<rect x="385.98" y="356.45" width="55.26" height="1.70" fill="#a0a0a0" stroke="#444" stroke-width="0.5"/>
<text x="233.50" y="366.20" font-size="4.4" stroke="#4a4a4a" stroke-width="0.12" textLength="28.6" lengthAdjust="spacingAndGlyphs" fill="#4a4a4a">Heterogeneity:</text>
<text x="264.00" y="366.20" font-size="4.6" stroke="#2a2a2a" stroke-width="0.12" textLength="58.3" lengthAdjust="spacingAndGlyphs" fill="#2a2a2a">I² = 82%, τ² = 0.7688, P &lt; .01</text>
<text x="233.50" y="371.50" font-size="4.5" stroke="#3a3a3a" stroke-width="0.12" textLength="58.6" lengthAdjust="spacingAndGlyphs" fill="#3a3a3a">Test for subgroup differences:</text>
<text x="294.00" y="371.50" font-size="4.6" stroke="#2a2a2a" stroke-width="0.12" textLength="54.37" lengthAdjust="spacingAndGlyphs" fill="#2a2a2a">χ²₃ = 52.28, df = 3 (P &lt; .01)</text>
<text x="481.60" y="354.40" font-size="5.6" stroke="#2a2a2a" stroke-width="0.1" text-anchor="end" textLength="10.3" lengthAdjust="spacingAndGlyphs" fill="#2a2a2a">0.46</text>
<text x="485.30" y="354.40" font-size="5.6" stroke="#2a2a2a" stroke-width="0.1" textLength="28.0" lengthAdjust="spacingAndGlyphs" fill="#2a2a2a">[0.36; 0.57]</text>
<text x="485.30" y="360.70" font-size="5.6" stroke="#2a2a2a" stroke-width="0.1" textLength="28.0" lengthAdjust="spacingAndGlyphs" fill="#2a2a2a">[0.12; 0.85]</text>
<line x1="374.40" y1="359.30" x2="455.30" y2="359.30" stroke="#1a1a1a" stroke-width="1.3"/>
<line x1="376.90" y1="359.30" x2="376.90" y2="362.50" stroke="#1a1a1a" stroke-width="1.1"/>
<text x="376.90" y="370.70" font-size="6.2" stroke="#2a2a2a" stroke-width="0.1" text-anchor="middle" textLength="2.94" lengthAdjust="spacingAndGlyphs" fill="#2a2a2a">0</text>
<line x1="392.04" y1="359.30" x2="392.04" y2="362.50" stroke="#1a1a1a" stroke-width="1.1"/>
<text x="392.04" y="370.70" font-size="6.2" stroke="#2a2a2a" stroke-width="0.1" text-anchor="middle" textLength="7.36" lengthAdjust="spacingAndGlyphs" fill="#2a2a2a">0.2</text>
<line x1="407.18" y1="359.30" x2="407.18" y2="362.50" stroke="#1a1a1a" stroke-width="1.1"/>
<text x="407.18" y="370.70" font-size="6.2" stroke="#2a2a2a" stroke-width="0.1" text-anchor="middle" textLength="7.36" lengthAdjust="spacingAndGlyphs" fill="#2a2a2a">0.4</text>
<line x1="422.32" y1="359.30" x2="422.32" y2="362.50" stroke="#1a1a1a" stroke-width="1.1"/>
<text x="422.32" y="370.70" font-size="6.2" stroke="#2a2a2a" stroke-width="0.1" text-anchor="middle" textLength="7.36" lengthAdjust="spacingAndGlyphs" fill="#2a2a2a">0.6</text>
<line x1="437.46" y1="359.30" x2="437.46" y2="362.50" stroke="#1a1a1a" stroke-width="1.1"/>
<text x="437.46" y="370.70" font-size="6.2" stroke="#2a2a2a" stroke-width="0.1" text-anchor="middle" textLength="7.36" lengthAdjust="spacingAndGlyphs" fill="#2a2a2a">0.8</text>
<line x1="452.60" y1="359.30" x2="452.60" y2="362.50" stroke="#1a1a1a" stroke-width="1.1"/>
<text x="452.60" y="370.70" font-size="6.2" stroke="#2a2a2a" stroke-width="0.1" text-anchor="middle" textLength="2.94" lengthAdjust="spacingAndGlyphs" fill="#2a2a2a">1</text>
<text x="400.50" y="380.70" font-size="8.2" stroke="#2a2a2a" stroke-width="0.1" textLength="28.4" lengthAdjust="spacingAndGlyphs" fill="#2a2a2a">Proportion</text>
<line x1="43.60" y1="256.80" x2="58.00" y2="256.80" stroke="#2a1212" stroke-width="1.1"/>
<circle cx="54.80" cy="246.40" r="1.80" fill="#fbe9e6" stroke="#2a1212" stroke-width="1.15"/>
<circle cx="48.00" cy="252.80" r="3.20" fill="#fbe9e6" stroke="#2a1212" stroke-width="1.15"/>
<circle cx="46.00" cy="255.50" r="1.50" fill="#fbe9e6" stroke="#2a1212" stroke-width="1.15"/>
<circle cx="49.60" cy="259.20" r="1.50" fill="#fbe9e6" stroke="#2a1212" stroke-width="1.15"/>
<circle cx="50.40" cy="261.60" r="1.50" fill="#fbe9e6" stroke="#2a1212" stroke-width="1.15"/>
<circle cx="52.80" cy="263.60" r="1.80" fill="#fbe9e6" stroke="#2a1212" stroke-width="1.15"/>
<circle cx="52.80" cy="266.80" r="2.00" fill="#fbe9e6" stroke="#2a1212" stroke-width="1.15"/>
<circle cx="55.60" cy="253.20" r="4.20" fill="#f4b8b0" stroke="#2a1212" stroke-width="1.15"/>
<line x1="67.20" y1="206.00" x2="67.20" y2="252.50" stroke="#1a1a1a" stroke-width="1.0"/>
<rect x="59.80" y="217.50" width="15.10" height="16.00" fill="#cc0c2e"/>
<line x1="59.80" y1="226.00" x2="74.90" y2="226.00" stroke="#5a0012" stroke-width="1.1"/>
<circle cx="64.00" cy="241.20" r="2.00" fill="#7a0a20" stroke="#3a0010" stroke-width="1.0"/>
<circle cx="65.30" cy="247.40" r="1.60" fill="#7a0a20" stroke="#3a0010" stroke-width="1.0"/>
<circle cx="63.00" cy="252.00" r="1.70" fill="#7a0a20" stroke="#3a0010" stroke-width="1.0"/>
<circle cx="63.70" cy="219.30" r="3.30" fill="none" stroke="#4a0010" stroke-width="0.65"/>
<circle cx="71.70" cy="220.40" r="3.00" fill="none" stroke="#4a0010" stroke-width="0.65"/>
<circle cx="67.20" cy="222.50" r="3.00" fill="none" stroke="#4a0010" stroke-width="0.65"/>
<circle cx="62.30" cy="224.20" r="3.00" fill="none" stroke="#4a0010" stroke-width="0.65"/>
<circle cx="71.00" cy="227.40" r="3.00" fill="none" stroke="#4a0010" stroke-width="0.65"/>
<circle cx="66.50" cy="229.10" r="3.00" fill="none" stroke="#4a0010" stroke-width="0.65"/>
<circle cx="62.60" cy="230.20" r="2.80" fill="none" stroke="#4a0010" stroke-width="0.65"/>
<circle cx="63.70" cy="233.00" r="2.50" fill="none" stroke="#4a0010" stroke-width="0.65"/>
<circle cx="70.00" cy="232.30" r="2.80" fill="none" stroke="#4a0010" stroke-width="0.65"/>
<circle cx="65.20" cy="209.60" r="4.40" fill="#c80c2c" stroke="#3a0010" stroke-width="0.85"/>
<circle cx="70.20" cy="202.00" r="4.20" fill="#c80c2c" stroke="#3a0010" stroke-width="0.85"/>
<rect x="86.00" y="252.30" width="15.50" height="2.50" fill="#f8d3cc"/>
<line x1="86.00" y1="253.50" x2="101.50" y2="253.50" stroke="#2a1212" stroke-width="1.1"/>
<circle cx="89.50" cy="252.00" r="2.50" fill="#f4b8b0" stroke="#2a1212" stroke-width="1.15"/>
<circle cx="96.00" cy="251.00" r="2.00" fill="#9a8080" stroke="#2a1212" stroke-width="1.15"/>
<circle cx="95.00" cy="255.00" r="2.50" fill="#f4b8b0" stroke="#2a1212" stroke-width="1.15"/>
<circle cx="92.00" cy="259.50" r="2.00" fill="#fbe9e6" stroke="#2a1212" stroke-width="1.15"/>
<circle cx="97.00" cy="257.50" r="1.80" fill="#9a8080" stroke="#2a1212" stroke-width="1.15"/>
<circle cx="97.50" cy="222.00" r="1.30" fill="#fbe9e6" stroke="#2a1212" stroke-width="1.15"/>
<line x1="109.80" y1="182.00" x2="109.80" y2="239.00" stroke="#1a1a1a" stroke-width="1.0"/>
<rect x="102.00" y="196.50" width="15.50" height="26.50" fill="#cc0c2e"/>
<line x1="102.00" y1="222.00" x2="117.50" y2="222.00" stroke="#5a0012" stroke-width="1.1"/>
<circle cx="113.50" cy="181.80" r="1.80" fill="#7a0a20" stroke="#3a0010" stroke-width="1.0"/>
<circle cx="105.80" cy="188.00" r="1.80" fill="#7a0a20" stroke="#3a0010" stroke-width="1.0"/>
<circle cx="107.00" cy="205.00" r="2.20" fill="none" stroke="#3a0010" stroke-width="1.0"/>
<circle cx="104.00" cy="222.00" r="2.00" fill="#c80c2c" stroke="#3a0010" stroke-width="1.0"/>
<circle cx="110.00" cy="220.50" r="2.10" fill="#c80c2c" stroke="#3a0010" stroke-width="1.0"/>
<circle cx="115.00" cy="222.00" r="2.00" fill="#c80c2c" stroke="#3a0010" stroke-width="1.0"/>
<circle cx="111.00" cy="239.00" r="2.00" fill="#7a0a20" stroke="#3a0010" stroke-width="1.0"/>
<rect x="128.60" y="249.00" width="15.70" height="2.50" fill="#f8d3cc"/>
<line x1="128.60" y1="250.20" x2="144.30" y2="250.20" stroke="#2a1212" stroke-width="1.1"/>
<circle cx="135.10" cy="246.10" r="1.80" fill="#fbe9e6" stroke="#2a1212" stroke-width="1.15"/>
<circle cx="134.20" cy="248.50" r="1.50" fill="#fbe9e6" stroke="#2a1212" stroke-width="1.15"/>
<circle cx="133.80" cy="253.50" r="2.00" fill="#fbe9e6" stroke="#2a1212" stroke-width="1.15"/>
<circle cx="140.40" cy="251.40" r="1.80" fill="#fbe9e6" stroke="#2a1212" stroke-width="1.15"/>
<circle cx="137.70" cy="260.50" r="1.50" fill="#9a8080" stroke="#2a1212" stroke-width="1.15"/>
<line x1="152.00" y1="180.70" x2="152.00" y2="235.00" stroke="#1a1a1a" stroke-width="1.0"/>
<rect x="143.70" y="199.00" width="16.50" height="21.00" fill="#cc0c2e"/>
<line x1="143.70" y1="210.50" x2="160.20" y2="210.50" stroke="#5a0012" stroke-width="1.1"/>
<circle cx="152.00" cy="180.70" r="1.80" fill="#7a0a20" stroke="#3a0010" stroke-width="1.0"/>
<circle cx="149.50" cy="204.50" r="1.70" fill="none" stroke="#3a0010" stroke-width="1.0"/>
<circle cx="154.50" cy="215.00" r="1.70" fill="none" stroke="#3a0010" stroke-width="1.0"/>
<circle cx="151.90" cy="235.00" r="1.80" fill="#7a0a20" stroke="#3a0010" stroke-width="1.0"/>
<line x1="179.60" y1="252.00" x2="179.60" y2="257.00" stroke="#2a1212" stroke-width="1.0"/>
<line x1="170.50" y1="256.80" x2="186.30" y2="256.80" stroke="#2a1212" stroke-width="1.1"/>
<circle cx="179.70" cy="250.60" r="2.00" fill="#fbe9e6" stroke="#2a1212" stroke-width="1.15"/>
<circle cx="179.30" cy="256.90" r="1.80" fill="#fbe9e6" stroke="#2a1212" stroke-width="1.15"/>
<circle cx="178.80" cy="260.60" r="2.00" fill="#fbe9e6" stroke="#2a1212" stroke-width="1.15"/>
<line x1="194.40" y1="197.50" x2="194.40" y2="234.70" stroke="#1a1a1a" stroke-width="1.0"/>
<rect x="186.25" y="201.90" width="16.50" height="29.35" fill="#cc0c2e"/>
<line x1="186.25" y1="216.90" x2="202.75" y2="216.90" stroke="#5a0012" stroke-width="1.1"/>
<circle cx="198.50" cy="196.50" r="2.00" fill="#7a0a20" stroke="#3a0010" stroke-width="1.0"/>
<circle cx="192.50" cy="203.75" r="1.80" fill="none" stroke="#3a0010" stroke-width="1.0"/>
<circle cx="192.50" cy="230.00" r="1.80" fill="none" stroke="#3a0010" stroke-width="1.0"/>
<circle cx="195.00" cy="234.75" r="2.00" fill="#7a0a20" stroke="#3a0010" stroke-width="1.0"/>
<rect x="43.60" y="360.80" width="15.80" height="5.80" fill="#f8d3cc"/>
<line x1="51.30" y1="349.00" x2="51.30" y2="378.80" stroke="#2a1212" stroke-width="1.0"/>
<line x1="43.80" y1="358.50" x2="58.50" y2="358.50" stroke="#2a1212" stroke-width="1.0"/>
<circle cx="54.90" cy="348.60" r="1.60" fill="#fbe9e6" stroke="#2a1212" stroke-width="1.15"/>
<circle cx="48.10" cy="355.40" r="2.50" fill="#fbe9e6" stroke="#2a1212" stroke-width="1.15"/>
<circle cx="46.80" cy="358.50" r="1.80" fill="#fbe9e6" stroke="#2a1212" stroke-width="1.15"/>
<circle cx="48.10" cy="361.70" r="2.00" fill="#fbe9e6" stroke="#2a1212" stroke-width="1.15"/>
<circle cx="51.70" cy="364.40" r="1.80" fill="#fbe9e6" stroke="#2a1212" stroke-width="1.15"/>
<circle cx="49.50" cy="368.90" r="1.80" fill="#fbe9e6" stroke="#2a1212" stroke-width="1.15"/>
<circle cx="52.60" cy="371.10" r="1.80" fill="#fbe9e6" stroke="#2a1212" stroke-width="1.15"/>
<circle cx="53.50" cy="373.80" r="1.80" fill="#fbe9e6" stroke="#2a1212" stroke-width="1.15"/>
<circle cx="52.60" cy="376.10" r="1.50" fill="#fbe9e6" stroke="#2a1212" stroke-width="1.15"/>
<circle cx="54.90" cy="357.60" r="4.40" fill="#f4b8b0" stroke="#2a1212" stroke-width="1.15"/>
<line x1="67.50" y1="308.00" x2="67.50" y2="341.00" stroke="#1a1a1a" stroke-width="1.0"/>
<rect x="59.50" y="314.50" width="15.50" height="14.50" fill="#cc0c2e"/>
<line x1="59.50" y1="322.00" x2="75.00" y2="322.00" stroke="#5a0012" stroke-width="1.1"/>
<circle cx="65.00" cy="341.20" r="1.80" fill="#7a0a20" stroke="#3a0010" stroke-width="1.0"/>
<circle cx="65.60" cy="355.60" r="1.70" fill="#7a0a20" stroke="#3a0010" stroke-width="1.0"/>
<circle cx="71.00" cy="356.50" r="1.70" fill="#7a0a20" stroke="#3a0010" stroke-width="1.0"/>
<circle cx="63.50" cy="371.25" r="1.70" fill="#7a0a20" stroke="#3a0010" stroke-width="1.0"/>
<circle cx="66.60" cy="315.00" r="2.60" fill="none" stroke="#4a0010" stroke-width="0.65"/>
<circle cx="62.90" cy="317.90" r="2.60" fill="none" stroke="#4a0010" stroke-width="0.65"/>
<circle cx="71.00" cy="317.90" r="2.60" fill="none" stroke="#4a0010" stroke-width="0.65"/>
<circle cx="66.60" cy="321.50" r="2.60" fill="none" stroke="#4a0010" stroke-width="0.65"/>
<circle cx="62.90" cy="324.60" r="2.60" fill="none" stroke="#4a0010" stroke-width="0.65"/>
<circle cx="69.80" cy="325.30" r="2.60" fill="none" stroke="#4a0010" stroke-width="0.65"/>
<circle cx="64.80" cy="328.60" r="2.40" fill="none" stroke="#4a0010" stroke-width="0.65"/>
<circle cx="72.50" cy="322.00" r="2.40" fill="none" stroke="#4a0010" stroke-width="0.65"/>
<circle cx="67.00" cy="307.75" r="2.00" fill="#7a0a20" stroke="#3a0010" stroke-width="1.0"/>
<circle cx="63.50" cy="305.25" r="3.00" fill="#c80c2c" stroke="#3a0010" stroke-width="0.85"/>
<circle cx="65.40" cy="299.60" r="4.20" fill="#c80c2c" stroke="#3a0010" stroke-width="0.85"/>
<circle cx="70.75" cy="290.25" r="4.00" fill="#c80c2c" stroke="#3a0010" stroke-width="0.85"/>
<line x1="86.00" y1="369.40" x2="101.50" y2="369.40" stroke="#2a1212" stroke-width="1.1"/>
<circle cx="97.50" cy="358.75" r="1.50" fill="#fbe9e6" stroke="#2a1212" stroke-width="1.15"/>
<circle cx="89.75" cy="365.00" r="2.50" fill="#f4b8b0" stroke="#2a1212" stroke-width="1.15"/>
<circle cx="92.50" cy="369.00" r="2.00" fill="#f4b8b0" stroke="#2a1212" stroke-width="1.15"/>
<circle cx="95.00" cy="368.50" r="2.50" fill="#f4b8b0" stroke="#2a1212" stroke-width="1.15"/>
<circle cx="95.60" cy="376.00" r="2.00" fill="#fbe9e6" stroke="#2a1212" stroke-width="1.15"/>
<line x1="109.75" y1="356.00" x2="109.75" y2="375.60" stroke="#1a1a1a" stroke-width="1.0"/>
<rect x="102.25" y="343.30" width="15.75" height="13.70" fill="#cc0c2e"/>
<line x1="102.25" y1="347.00" x2="118.00" y2="347.00" stroke="#5a0012" stroke-width="1.1"/>
<circle cx="106.70" cy="314.20" r="2.70" fill="#7a0a20" stroke="#3a0010" stroke-width="0.85"/>
<circle cx="113.50" cy="341.50" r="1.60" fill="#7a0a20" stroke="#3a0010" stroke-width="1.0"/>
<circle cx="110.00" cy="346.00" r="2.20" fill="#c80c2c" stroke="#3a0010" stroke-width="1.0"/>
<circle cx="106.00" cy="354.00" r="2.00" fill="#c80c2c" stroke="#3a0010" stroke-width="1.0"/>
<circle cx="111.40" cy="357.30" r="2.00" fill="#7a0a20" stroke="#3a0010" stroke-width="1.0"/>
<circle cx="105.90" cy="376.25" r="2.00" fill="#7a0a20" stroke="#3a0010" stroke-width="1.0"/>
<line x1="136.00" y1="358.00" x2="136.00" y2="373.00" stroke="#1a1a1a" stroke-width="1.0"/>
<rect x="128.10" y="363.50" width="15.65" height="6.75" fill="#f8d3cc"/>
<line x1="128.10" y1="367.75" x2="143.75" y2="367.75" stroke="#2a1212" stroke-width="1.1"/>
<circle cx="140.00" cy="358.10" r="1.50" fill="#fbe9e6" stroke="#2a1212" stroke-width="1.15"/>
<circle cx="135.00" cy="362.50" r="1.50" fill="#fbe9e6" stroke="#2a1212" stroke-width="1.15"/>
<circle cx="134.40" cy="368.50" r="2.00" fill="#fbe9e6" stroke="#2a1212" stroke-width="1.15"/>
<circle cx="136.90" cy="371.25" r="2.00" fill="#fbe9e6" stroke="#2a1212" stroke-width="1.15"/>
<line x1="152.30" y1="310.00" x2="152.30" y2="355.00" stroke="#1a1a1a" stroke-width="1.0"/>
<rect x="144.10" y="326.10" width="15.50" height="14.50" fill="#cc0c2e"/>
<line x1="144.10" y1="339.00" x2="159.60" y2="339.00" stroke="#5a0012" stroke-width="1.1"/>
<circle cx="152.00" cy="309.90" r="1.80" fill="#7a0a20" stroke="#3a0010" stroke-width="1.0"/>
<circle cx="154.00" cy="321.10" r="1.80" fill="#7a0a20" stroke="#3a0010" stroke-width="1.0"/>
<circle cx="149.00" cy="355.00" r="1.50" fill="#7a0a20" stroke="#3a0010" stroke-width="1.0"/>
<circle cx="151.00" cy="339.00" r="2.00" fill="#7a0a20" stroke="#3a0010" stroke-width="1.0"/>
<line x1="179.50" y1="361.70" x2="179.50" y2="372.00" stroke="#1a1a1a" stroke-width="1.0"/>
<line x1="171.00" y1="369.20" x2="186.30" y2="369.20" stroke="#2a1212" stroke-width="1.1"/>
<circle cx="180.00" cy="361.70" r="1.80" fill="#fbe9e6" stroke="#2a1212" stroke-width="1.15"/>
<circle cx="179.25" cy="369.70" r="2.20" fill="#9a8080" stroke="#2a1212" stroke-width="1.15"/>
<circle cx="179.50" cy="372.00" r="2.00" fill="#fbe9e6" stroke="#2a1212" stroke-width="1.15"/>
<line x1="194.40" y1="340.00" x2="194.40" y2="356.00" stroke="#1a1a1a" stroke-width="1.0"/>
<rect x="186.30" y="345.70" width="16.20" height="6.00" fill="#cc0c2e"/>
<line x1="186.30" y1="348.50" x2="202.50" y2="348.50" stroke="#5a0012" stroke-width="1.1"/>
<circle cx="198.30" cy="342.70" r="2.00" fill="#7a0a20" stroke="#3a0010" stroke-width="1.0"/>
<circle cx="195.00" cy="355.30" r="2.00" fill="#7a0a20" stroke="#3a0010" stroke-width="1.0"/>
<circle cx="192.00" cy="349.00" r="1.80" fill="#7a0a20" stroke="#3a0010" stroke-width="1.0"/>
<rect x="0.5" y="0.5" width="519" height="399" fill="none" stroke="#505050" stroke-width="1"/>
</svg>
</body></html>
